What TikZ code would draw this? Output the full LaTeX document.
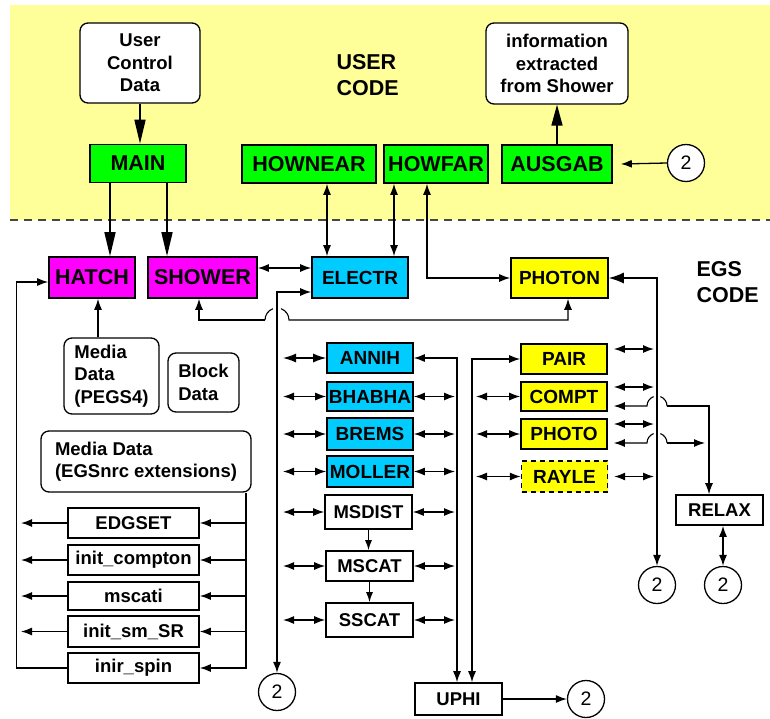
\documentclass[tikz,border=0pt]{standalone}
\usepackage{fontspec}
\setmainfont{Liberation Sans}
\usetikzlibrary{arrows.meta}

\newcommand\fbig{\fontsize{21.5}{26}\selectfont\bfseries}
\newcommand\fmid{\fontsize{19}{23}\selectfont\bfseries}
\newcommand\fsm{\fontsize{18.5}{22.5}\selectfont\bfseries}
\newcommand\fnum{\fontsize{19.5}{23}\selectfont}

\definecolor{bgyellow}{RGB}{255,255,153}
\definecolor{bgreen}{RGB}{0,255,0}
\definecolor{bmag}{RGB}{255,0,255}
\definecolor{bcyan}{RGB}{0,204,255}
\definecolor{byel}{RGB}{255,255,0}
\definecolor{dashgray}{RGB}{70,70,70}

\begin{document}
\begin{tikzpicture}[x=1pt,y=-1pt,
  box/.style={draw, line width=1.6pt, inner sep=0pt, align=center, font=\fsm},
  rbox/.style={box, rounded corners=8pt, fill=white, line width=1.3pt},
  dims/.style 2 args={minimum width=#1, minimum height=#2},
  usr/.style={box, fill=bgreen, font=\fbig, minimum height=38pt},
  egs/.style={box, fill=bmag, font=\fbig, minimum height=41pt},
  cyb/.style={box, fill=bcyan, font=\fmid, minimum width=86pt},
  ylb/.style={box, fill=byel, font=\fmid, minimum width=86pt},
  wbox/.style={box, fill=white, font=\fsm},
  num/.style={circle, draw, line width=1.3pt, fill=white, minimum size=37pt, inner sep=0pt, font=\fnum},
  conn/.style={line width=1.3pt},
  sm/.style={conn, -{Latex[length=11pt,width=8pt]}},
  dbl/.style={conn, {Latex[length=11pt,width=8pt]}-{Latex[length=11pt,width=8pt]}},
  big/.style={line width=1.6pt, -{Triangle[length=24pt,width=11pt]}},
  hopline/.style={line width=1.1pt}
]
\useasboundingbox (0,0) rectangle (770,718);

% user-code band and its boundary
\fill[bgyellow] (10,5) rectangle (770,220);
\draw[dashgray, line width=1.3pt, dash pattern=on 8pt off 6pt] (10,220) -- (770,220);

% section labels
\node[font=\fbig, align=left, anchor=west] (ucode) at (333,75) {USER\\CODE};
\node[font=\fbig, align=left, anchor=west] (ecode) at (693,282) {EGS\\CODE};

% user code routines
\node[rbox, dims={120pt}{80pt}] (ucd) at (140,63) {User\\Control\\Data};
\node[rbox, dims={142pt}{81pt}] (info) at (557,63.5) {information\\extracted\\from Shower};
\node[usr, minimum width=96pt] (main) at (138,163.5) {MAIN};
\node[usr, minimum width=134pt] (hownear) at (309,164) {HOWNEAR};
\node[usr, minimum width=104pt] (howfar) at (436,164) {HOWFAR};
\node[usr, minimum width=110pt] (ausgab) at (557,164) {AUSGAB};
\node[num] (cTop) at (686,163) {2};

% EGS main routines
\node[egs, minimum width=86pt] (hatch) at (92,277.5) {HATCH};
\node[egs, minimum width=109pt] (shower) at (202.5,277.5) {SHOWER};
\node[cyb, dims={96pt}{41pt}] (electr) at (360,277.5) {ELECTR};
\node[ylb, dims={97pt}{40pt}] (photon) at (559.5,278) {PHOTON};

% data boxes
\node[rbox, dims={95pt}{76pt}, align=left] (pegs) at (111.5,376) {Media\\Data\\(PEGS4)};
\node[rbox, dims={71pt}{59pt}, align=left] (block) at (203.5,382.5) {Block\\Data};
\node[rbox, dims={210pt}{61pt}, align=left] (egsnrc) at (146,461.5) {Media Data\\(EGSnrc extensions)};

% initialisation routines
\node[wbox, dims={131pt}{30pt}] (edgset) at (133.5,523) {EDGSET};
\node[wbox, dims={131pt}{30pt}] (initc) at (133.5,560) {init\_compton};
\node[wbox, dims={131pt}{28pt}] (mscati) at (133.5,596) {mscati};
\node[wbox, dims={131pt}{31pt}] (initsm) at (133.5,631.5) {init\_sm\_SR};
\node[wbox, dims={131pt}{30pt}] (inir) at (133.5,668) {inir\_spin};

% electron interactions
\node[cyb, minimum height=30pt] (annih) at (370,358) {ANNIH};
\node[cyb, minimum height=29pt] (bhabha) at (370,396.5) {BHABHA};
\node[cyb, minimum height=32pt] (brems) at (370,434) {BREMS};
\node[cyb, minimum height=31pt] (moller) at (370,471.5) {MOLLER};
\node[wbox, dims={87pt}{34pt}] (msdist) at (368.5,512) {MSDIST};
\node[wbox, dims={87pt}{30pt}] (mscat) at (369.5,566) {MSCAT};
\node[wbox, dims={87pt}{34pt}] (sscat) at (369.5,620) {SSCAT};

% photon interactions
\node[ylb, minimum height=30pt] (pair) at (564,359) {PAIR};
\node[ylb, minimum height=29pt] (compt) at (564,396.5) {COMPT};
\node[ylb, minimum height=30pt] (photo) at (564,434) {PHOTO};
\node[ylb, minimum height=31pt, dash pattern=on 5pt off 4pt, line width=1.4pt] (rayle) at (564.5,476.5) {RAYLE};

% other routines and return markers
\node[wbox, dims={87pt}{30pt}] (relax) at (719.5,510) {RELAX};
\node[wbox, dims={87pt}{32pt}] (uphi) at (458.5,699) {UPHI};
\node[num] (cA) at (277,692) {2};
\node[num] (cB) at (657,585) {2};
\node[num] (cC) at (723,585) {2};
\node[num] (cD) at (586,699) {2};

% helper coordinates for free connector ends
\coordinate (m1) at ([xshift=-28pt]main.south);
\coordinate (m2) at ([xshift=29pt]main.south);
\coordinate (hn) at ([xshift=18pt]hownear.south);
\coordinate (hf) at ([xshift=-42pt]howfar.south);
\coordinate (hp) at ([xshift=-9pt]howfar.south);
\coordinate (se) at ([yshift=9.5pt]shower.east);
\coordinate (pg) at ([xshift=-13.5pt]pegs.north);
\coordinate (rbus) at ([xshift=100pt]egsnrc.south);
\coordinate (lbus) at (21,0);
\coordinate (lcol) at (283,0);
\coordinate (rcol) at (455,0);
\coordinate (busA) at (457,0);
\coordinate (busB) at (472,0);
\coordinate (ycol) at (476,0);
\coordinate (ycolR) at (654,0);
\coordinate (hopL) at (265,320);
\coordinate (hopR) at (289,320);
\coordinate (hop1L) at (647,406);
\coordinate (hop1R) at (667,406);
\coordinate (hop2L) at (647,443);
\coordinate (hop2R) at (667,443);
\coordinate (pe) at (705,443);
\coordinate (pa1) at ([xshift=6pt,yshift=10pt]pair.east);
\coordinate (pa2) at ([xshift=6pt,yshift=9.5pt]compt.east);
\coordinate (pa3) at ([xshift=6pt,yshift=10pt]photo.east);
\coordinate (pa4) at ([xshift=6pt]rayle.east);

% user code connections
\draw[big] (ucd.south) -- (ucd.south |- main.north);
\draw[big] (m1) -- (m1 |- hatch.north);
\draw[big] (m2) -- (m2 |- shower.north);
\draw[line width=1.6pt, -{Triangle[length=21pt,width=11pt]}] (ausgab.north) -- (info.south);
\draw[sm] (cTop.west) -- ([xshift=8pt]ausgab.east);
\draw[dbl] (hn) -- (hn |- electr.north);
\draw[dbl] (hf) -- (hf |- electr.north);
\draw[dbl] (hp) |- (photon.west);

% shower level
\draw[dbl] (se) -- (se -| electr.west);
\draw[dbl] (cA.north) |- ([yshift=-14.5pt]electr.west);
\draw[hopline, {Latex[length=11pt,width=8pt]}-] ([xshift=8.5pt]photon.south) |- (hopR) arc[start angle=0, end angle=70, radius=12pt];
\draw[hopline] (hopL) arc[start angle=180, end angle=110, radius=12pt];
\draw[hopline, -{Latex[length=11pt,width=8pt]}] (hopL) -| ([xshift=-3.5pt]shower.south);
\draw[conn, {Latex[length=15pt,width=11pt]}-{Latex[length=11pt,width=8pt]}] (photon.east) -| (cB.north);

% media data and initialisation
\draw[sm] (pg) -- (pg |- hatch.south);
\draw[sm] (rbus) |- (inir.east);
\draw[sm] (rbus |- edgset.east) -- (edgset.east);
\draw[sm] (rbus |- initc.east) -- (initc.east);
\draw[sm] (rbus |- mscati.east) -- (mscati.east);
\draw[sm] (rbus |- initsm.east) -- (initsm.east);
\draw[sm] (edgset.west) -- (lbus |- edgset.west);
\draw[sm] (initc.west) -- (lbus |- initc.west);
\draw[sm] (mscati.west) -- (lbus |- mscati.west);
\draw[sm] (initsm.west) -- (lbus |- initsm.west);
\draw[sm] (inir.west) -| ([xshift=-32pt,yshift=-4.5pt]hatch.west) -- ([yshift=-4.5pt]hatch.west);

% electron branch
\draw[conn, {Latex[length=13pt,width=9pt]}-{Latex[length=13pt,width=9pt]}] (lcol |- annih.west) -- (annih.west);
\foreach \n in {bhabha,brems,moller,msdist,mscat,sscat}
  \draw[dbl] (lcol |- \n.west) -- (\n.west);
\foreach \n in {bhabha,brems,moller,msdist,mscat,sscat}
  \draw[dbl] (\n.east) -- (rcol |- \n.east);
\draw[dbl] (annih.east) -| (busA |- uphi.north);
\draw[conn, -{Latex[length=10pt,width=7pt]}] (msdist.south) -- (msdist.south |- mscat.north);
\draw[conn, -{Latex[length=10pt,width=7pt]}] (mscat.south) -- (mscat.south |- sscat.north);

% photon branch
\draw[dbl] (pair.west) -| (busB |- uphi.north);
\foreach \n in {compt,photo,rayle}
  \draw[dbl] (ycol |- \n.west) -- (\n.west);
\foreach \p in {pa1,pa2,pa3,pa4}
  \draw[dbl] (\p) -- (\p -| ycolR);
\draw[hopline, {Latex[length=11pt,width=8pt]}-] ([xshift=6pt,yshift=-9.5pt]compt.east) -- (hop1L) arc[start angle=180, end angle=110, radius=10pt];
\draw[hopline] (hop1R) arc[start angle=0, end angle=70, radius=10pt];
\draw[hopline, -{Latex[length=11pt,width=8pt]}] (hop1R) -| ([xshift=-10.5pt]relax.north);
\draw[hopline, {Latex[length=11pt,width=8pt]}-] ([xshift=6pt,yshift=-9pt]photo.east) -- (hop2L) arc[start angle=180, end angle=110, radius=10pt];
\draw[hopline] (hop2R) arc[start angle=0, end angle=70, radius=10pt];
\draw[hopline, -{Latex[length=11pt,width=8pt]}] (hop2R) -- (pe);
\draw[dbl] (cC.north) -- (cC.north |- relax.south);
\draw[sm] (uphi.east) -- (cD.west);
\end{tikzpicture}
\end{document}
